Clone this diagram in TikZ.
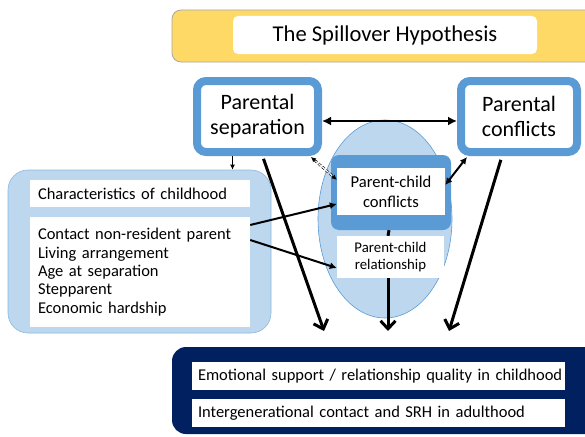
\documentclass[tikz,border=0pt]{standalone}
\usepackage{fontspec}
\setmainfont{Carlito}
\usetikzlibrary{arrows.meta,calc,shapes.geometric}
\definecolor{ublue}{HTML}{5B9BD5}
\definecolor{lblue}{HTML}{BDD7EE}
\definecolor{navy}{HTML}{002060}
\definecolor{ygold}{HTML}{FFD966}
\tikzset{
  bigframe/.style={draw=ublue, line width=8pt, fill=white, rounded corners=9pt, inner sep=0pt, align=center, font=\fontsize{22}{25}\selectfont},
  wbox/.style={fill=white, inner sep=0pt},
  outbox/.style={wbox, minimum width=373pt, minimum height=28pt, text width=361pt, inner xsep=6pt, align=left, font=\fontsize{16.5}{19}\selectfont},
  listbox/.style={wbox, minimum width=220pt, text width=204pt, inner xsep=8pt, align=left, font=\fontsize{16.5}{18.3}\selectfont},
  thickarrow/.style={line width=3pt, -{Straight Barb[length=8pt,width=15pt]}},
  medarrow/.style={line width=2pt, -{Latex[length=7pt,width=7pt]}},
  tip/.style={-{Latex[length=5pt,width=5pt]}},
}
\begin{document}
\begin{tikzpicture}[x=1pt,y=-1pt]
\useasboundingbox (0,0) rectangle (585,436);
\clip (0,0) rectangle (585,436);
% banner
\draw[fill=ygold, draw=gray!70, line width=0.8pt, rounded corners=9pt] (172,10) rectangle (620,62);
\node[wbox, rounded corners=5pt, minimum width=304pt, minimum height=38pt, font=\fontsize{22.6}{25}\selectfont] (title) at (385,35) {The Spillover Hypothesis};
% ellipse
\node[ellipse, fill=lblue, draw=ublue, line width=0.6pt, minimum width=134pt, minimum height=198pt] (ell) at (385,219) {};
% parental boxes
\node[bigframe, minimum width=121pt, minimum height=71pt] (sep) at (257.5,116.5) {Parental\\separation};
\node[bigframe, minimum width=116pt, minimum height=71pt] (con) at (519,116.5) {Parental\\conflicts};
% parent-child conflicts
\node[fill=ublue, rounded corners=8pt, minimum width=120pt, minimum height=75pt, inner sep=0pt] (pccframe) at (391,192.5) {};
\node[wbox, minimum width=108pt, minimum height=47pt, align=center, font=\fontsize{16.6}{20}\selectfont] (pcc) at (391,191.5) {Parent-child\\conflicts};
\node[wbox, minimum width=107pt, minimum height=42pt, align=center, font=\fontsize{14.8}{17}\selectfont] (pcr) at (390.5,257) {Parent-child\\relationship};
% left box
\node[fill=lblue, draw=ublue!70, line width=0.6pt, rounded corners=20pt, minimum width=263pt, minimum height=163pt, inner sep=0pt] (left) at (139.5,251.5) {};
\node[listbox, minimum height=27pt] (chars) at (140,193.5) {Characteristics of childhood};
\node[listbox, minimum height=110pt] (list) at (140,272) {Contact non-resident parent\\Living arrangement\\Age at separation\\Stepparent\\Economic hardship};
% outcome box
\fill[navy, rounded corners=14pt] (172,347) rectangle (620,434);
\node[outbox] (o1) at (378.5,376) {\mbox{Emotional support / relationship quality in childhood}};
\node[outbox] (o2) at (378.5,413) {\mbox{Intergenerational contact and SRH in adulthood}};
% coordinates for arrow ends
\coordinate (e1) at (324,331);
\coordinate (e2) at (388,331);
\coordinate (e3) at (449,331);
% connectors
\draw[{Latex[length=9pt,width=9pt]}-{Latex[length=9pt,width=9pt]}, line width=2.5pt] ([yshift=-4.5pt]sep.east) -- ([yshift=-4.5pt]con.west);
\draw[line width=1.5pt, tip] ([xshift=-25pt]sep.south) -- ([xshift=-25pt]sep.south |- left.north);
\draw[thickarrow, shorten <=3pt] ([xshift=5pt]sep.south) -- (e1);
\draw[thickarrow, shorten <=4pt] ([xshift=-17pt]con.south) -- (e3);
\draw[line width=3pt] ([xshift=-2pt]pccframe.south) -- ([xshift=-2.5pt]pcr.north);
\draw[thickarrow] ([xshift=-2.5pt]pcr.south) -- (e2);
\draw[medarrow] ([yshift=47pt]list.east) -- ([yshift=-12.5pt]pcc.west);
\draw[medarrow] ([yshift=32pt]list.east) -- ([yshift=-11pt]pcr.west);
\draw[line width=2pt, {Latex[length=7pt,width=7pt]}-{Latex[length=7pt,width=7pt]}] ([xshift=10pt,yshift=-1pt]con.south west) -- ([yshift=6.5pt]pcc.east);
% dashed double arrow
\coordinate (da) at ([xshift=-11pt,yshift=-1pt]sep.south east);
\coordinate (db) at ([yshift=-12pt]pcc.north west);
\draw[densely dashed, double, double distance=1.2pt, line width=0.6pt, shorten <=5pt, shorten >=5pt] (da) -- (db);
\draw[line width=0.8pt, tip] ($(da)!6pt!(db)$) -- (da);
\draw[line width=0.8pt, tip] ($(db)!6pt!(da)$) -- (db);
\end{tikzpicture}
\end{document}
